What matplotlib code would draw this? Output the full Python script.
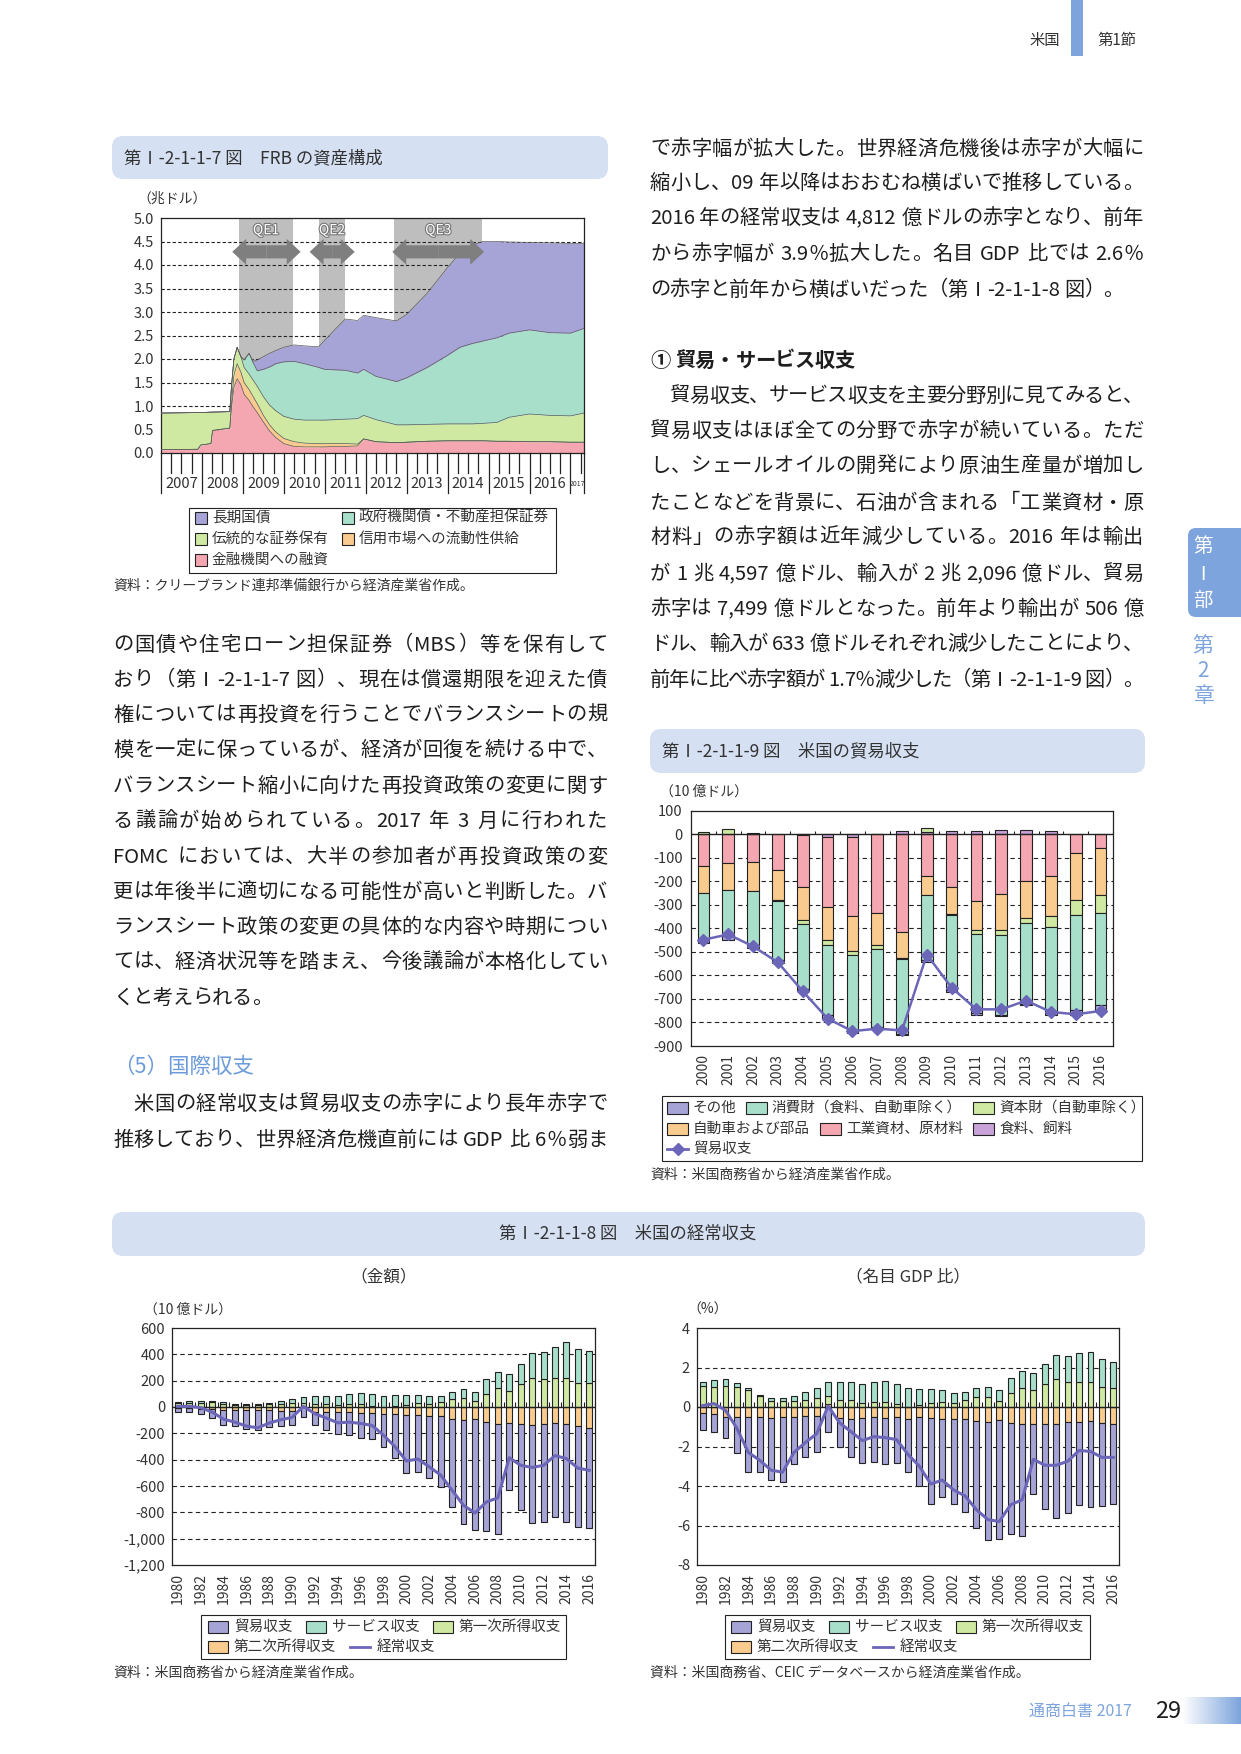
import re
import numpy as np
import matplotlib
matplotlib.use('Agg')
import matplotlib.pyplot as plt
from matplotlib import font_manager
from matplotlib.ft2font import FT2Font
from matplotlib.patches import Rectangle, FancyBboxPatch, FancyArrow
from matplotlib.colors import LinearSegmentedColormap
import matplotlib.patheffects as pe

W, H = 1241, 1754
plt.rcParams['font.family'] = ['Noto Sans CJK JP', 'DejaVu Sans']
plt.rcParams['axes.unicode_minus'] = False

# ---- colours
LAV = '#A6A3D7'
MINT = '#A7DFCA'
LGRN = '#CFE9A2'
ORNG = '#FACB8F'
PINK = '#F4A7B0'
VIOL = '#C9A2DA'
LINE = '#6B66B8'
BOXBG = '#D6E0F3'
ACC = '#7DA4DC'
BODY = '#1E1E1E'
CT = '#333333'

# ---- 第I-2-1-1-7図 FRBの資産構成 (兆ドル), cumulative tops of each layer
frb_t = [2007.00, 2007.90, 2007.97, 2008.22, 2008.26, 2008.68, 2008.72, 2008.78, 2008.86, 2008.95,
         2009.03, 2009.15, 2009.25, 2009.35, 2009.50, 2009.65, 2009.80, 2010.00, 2010.25, 2010.50,
         2010.85, 2011.00, 2011.25, 2011.50, 2011.80, 2011.95, 2012.25, 2012.75, 2013.00, 2013.50,
         2014.00, 2014.30, 2014.60, 2014.85, 2015.20, 2015.50, 2016.00, 2016.50, 2017.00, 2017.33]
frb_loans = [0.07, 0.08, 0.17, 0.20, 0.48, 0.53, 0.95, 1.40, 1.58, 1.45,
             1.25, 1.12, 0.98, 0.86, 0.66, 0.47, 0.33, 0.20, 0.14, 0.13,
             0.13, 0.13, 0.14, 0.14, 0.15, 0.30, 0.24, 0.22, 0.23, 0.25,
             0.26, 0.26, 0.26, 0.26, 0.25, 0.25, 0.24, 0.24, 0.23, 0.23]
frb_credit = [0.07, 0.08, 0.17, 0.20, 0.48, 0.53, 1.05, 1.65, 1.90, 1.72,
              1.50, 1.35, 1.20, 1.05, 0.80, 0.60, 0.45, 0.31, 0.24, 0.21,
              0.20, 0.20, 0.20, 0.20, 0.19, 0.30, 0.24, 0.22, 0.23, 0.25,
              0.26, 0.26, 0.26, 0.26, 0.25, 0.25, 0.24, 0.24, 0.23, 0.23]
frb_trad = [0.85, 0.86, 0.86, 0.87, 0.87, 0.88, 1.40, 2.00, 2.25, 2.05,
            1.82, 1.68, 1.55, 1.42, 1.20, 1.02, 0.90, 0.78, 0.72, 0.70,
            0.70, 0.70, 0.71, 0.72, 0.73, 0.80, 0.71, 0.60, 0.60, 0.61,
            0.62, 0.62, 0.62, 0.63, 0.65, 0.76, 0.83, 0.80, 0.79, 0.85]
frb_agency = [0.85, 0.86, 0.86, 0.87, 0.87, 0.88, 1.40, 2.00, 2.25, 2.05,
              1.98, 2.12, 1.92, 1.75, 1.78, 1.83, 1.90, 1.94, 1.95, 1.90,
              1.82, 1.78, 1.77, 1.76, 1.70, 1.78, 1.63, 1.52, 1.60, 1.82,
              2.08, 2.25, 2.33, 2.38, 2.45, 2.55, 2.62, 2.56, 2.55, 2.65]
frb_total = [0.85, 0.86, 0.86, 0.87, 0.87, 0.88, 1.40, 2.00, 2.25, 2.05,
             1.98, 2.12, 1.95, 1.98, 2.05, 2.12, 2.18, 2.25, 2.30, 2.28,
             2.26, 2.40, 2.63, 2.85, 2.82, 2.93, 2.88, 2.81, 2.95, 3.40,
             3.95, 4.25, 4.42, 4.50, 4.50, 4.49, 4.48, 4.47, 4.46, 4.46]
frb_labels = ['金融機関への融資', '信用市場への流動性供給', '伝統的な証券保有',
              '政府機関債・不動産担保証券', '長期国債']
qe_names = ['QE1', 'QE2', 'QE3']
qe_start = [2008.90, 2010.85, 2012.70]
qe_end = [2010.23, 2011.50, 2014.84]
qe_arrow_start = [2008.74, 2010.63, 2012.65]
qe_arrow_end = [2010.41, 2011.73, 2014.89]
frb_years = list(range(2007, 2017))

# ---- 第I-2-1-1-9図 米国の貿易収支 (10億ドル)
trade_years = list(range(2000, 2017))
trade_food = [0, 0, 0, 0, -4, -10, -10, 3, 15, 10, 15, 17, 20, 20, 15, 0, 0]
trade_industrial = [-133, -120, -116, -150, -218, -297, -336, -333, -415, -176, -222, -282, -252, -197, -176, -78, -58]
trade_autos = [-115, -115, -123, -128, -141, -141, -149, -139, -109, -80, -115, -123, -153, -157, -171, -200, -198]
trade_capital = [10, 22, 7, -5, -18, -24, -19, -14, -4, 18, -4, -17, -24, -21, -45, -63, -77]
trade_consumer = [-195, -197, -230, -250, -275, -297, -319, -333, -319, -279, -319, -336, -337, -345, -360, -404, -391]
trade_other = [-17, -16, -14, -14, -11, -17, -10, -7, -7, -7, -11, -8, -5, -4, -17, -21, -28]
trade_balance = [-448, -425, -476, -544, -667, -783, -837, -826, -834, -511, -652, -744, -744, -707, -755, -765, -751]

# ---- 第I-2-1-1-8図 米国の経常収支
ca_years = list(range(1980, 2017))
ca_goods_bn = [-28, -28, -38, -69, -112, -122, -143, -155, -130, -115,
               -104, -77, -100, -138, -168, -176, -191, -199, -252, -337,
               -441, -426, -472, -540, -665, -787, -841, -825, -833, -512,
               -650, -741, -741, -711, -741, -764, -758]
ca_services_bn = [13, 17, 17, 10, 13, 3, 6, 8, 10, 23,
                  31, 46, 61, 63, 69, 77, 87, 92, 84, 84,
                  76, 61, 61, 46, 54, 69, 69, 115, 122, 130,
                  153, 191, 206, 237, 268, 260, 245]
ca_primary_bn = [28, 31, 31, 38, 25, 17, 14, 12, 20, 25,
                 31, 24, 23, 21, 15, 20, 20, 8, 0, 8,
                 15, 31, 23, 38, 61, 69, 46, 99, 145, 122,
                 176, 222, 214, 222, 222, 183, 183]
ca_secondary_bn = [-10, -10, -15, -15, -25, -23, -23, -23, -23, -31,
                   -33, 8, -38, -38, -38, -38, -46, -46, -54, -54,
                   -64, -64, -71, -71, -92, -99, -92, -115, -130, -122,
                   -130, -138, -130, -122, -130, -145, -161]
ca_bn = [5, 5, -5, -38, -92, -115, -145, -158, -122, -97,
         -79, 5, -51, -84, -120, -115, -125, -140, -214, -301,
         -410, -395, -454, -517, -632, -747, -805, -721, -690, -385,
         -443, -459, -443, -369, -392, -464, -481]

ca_goods_pct = [-0.85, -0.91, -1.07, -1.83, -2.79, -2.79, -3.11, -3.27, -2.37, -2.09,
                -1.84, -1.27, -1.47, -1.90, -2.27, -2.29, -2.32, -2.34, -2.69, -3.49,
                -4.35, -3.95, -4.31, -4.70, -5.42, -5.96, -6.01, -5.61, -5.66, -3.53,
                -4.29, -4.76, -4.58, -4.19, -4.33, -4.19, -4.06]
ca_services_pct = [0.22, 0.37, 0.37, 0.25, 0.10, 0.05, 0.17, 0.17, 0.24, 0.42,
                   0.52, 0.70, 0.93, 0.93, 0.96, 1.01, 1.06, 1.03, 0.95, 0.83,
                   0.72, 0.60, 0.50, 0.43, 0.46, 0.51, 0.57, 0.75, 0.84, 0.87,
                   1.00, 1.22, 1.29, 1.44, 1.52, 1.40, 1.32]
ca_primary_pct = [1.04, 0.99, 1.04, 0.99, 0.85, 0.55, 0.28, 0.28, 0.32, 0.34,
                  0.44, 0.40, 0.33, 0.33, 0.20, 0.25, 0.25, 0.13, 0.01, 0.08,
                  0.19, 0.25, 0.20, 0.33, 0.50, 0.50, 0.28, 0.70, 0.96, 0.85,
                  1.16, 1.41, 1.29, 1.29, 1.26, 1.01, 0.96]
ca_secondary_pct = [-0.31, -0.36, -0.51, -0.51, -0.51, -0.51, -0.58, -0.51, -0.51, -0.45,
                    -0.45, 0.16, -0.56, -0.61, -0.58, -0.51, -0.58, -0.51, -0.61, -0.51,
                    -0.58, -0.62, -0.62, -0.62, -0.72, -0.77, -0.67, -0.82, -0.87, -0.87,
                    -0.87, -0.87, -0.77, -0.77, -0.72, -0.82, -0.87]
ca_pct = [0.07, 0.17, -0.17, -1.08, -2.30, -2.70, -3.20, -3.30, -2.30, -1.80,
          -1.35, 0.05, -0.80, -1.25, -1.70, -1.50, -1.55, -1.65, -2.40, -3.00,
          -3.90, -3.70, -4.20, -4.50, -5.20, -5.70, -5.80, -4.95, -4.70, -2.65,
          -2.95, -2.95, -2.75, -2.20, -2.25, -2.55, -2.55]

# ---- body text
left_lines = [
    'の国債や住宅ローン担保証券（MBS）等を保有して',
    'おり（第Ⅰ-2-1-1-7 図）、現在は償還期限を迎えた債',
    '権については再投資を行うことでバランスシートの規',
    '模を一定に保っているが、経済が回復を続ける中で、',
    'バランスシート縮小に向けた再投資政策の変更に関す',
    'る議論が始められている。2017 年 3 月に行われた',
    'FOMC においては、大半の参加者が再投資政策の変',
    '更は年後半に適切になる可能性が高いと判断した。バ',
    'ランスシート政策の変更の具体的な内容や時期につい',
    'ては、経済状況等を踏まえ、今後議論が本格化してい',
    'くと考えられる。',
]
left_lines2 = [
    '　米国の経常収支は貿易収支の赤字により長年赤字で',
    '推移しており、世界経済危機直前には GDP 比 6％弱ま',
]
right_lines = [
    'で赤字幅が拡大した。世界経済危機後は赤字が大幅に',
    '縮小し、09 年以降はおおむね横ばいで推移している。',
    '2016 年の経常収支は 4,812 億ドルの赤字となり、前年',
    'から赤字幅が 3.9％拡大した。名目 GDP 比では 2.6％',
    'の赤字と前年から横ばいだった（第Ⅰ-2-1-1-8 図）。',
]
right_lines2 = [
    '　貿易収支、サービス収支を主要分野別に見てみると、',
    '貿易収支はほぼ全ての分野で赤字が続いている。ただ',
    'し、シェールオイルの開発により原油生産量が増加し',
    'たことなどを背景に、石油が含まれる「工業資材・原',
    '材料」の赤字額は近年減少している。2016 年は輸出',
    'が 1 兆 4,597 億ドル、輸入が 2 兆 2,096 億ドル、貿易',
    '赤字は 7,499 億ドルとなった。前年より輸出が 506 億',
    'ドル、輸入が 633 億ドルそれぞれ減少したことにより、',
    '前年に比べ赤字額が 1.7％減少した（第Ⅰ-2-1-1-9 図）。',
]

fig = plt.figure(figsize=(W / 100, H / 100), dpi=100)
pg = fig.add_axes([0, 0, 1, 1])
pg.axis('off')


def px_axes(x0, y0, x1, y1):
    return fig.add_axes([x0 / W, 1 - y1 / H, (x1 - x0) / W, (y1 - y0) / H])


_fonts = {}


def _adv_raw(s, fs, bold):
    prop = font_manager.FontProperties(family='Noto Sans CJK JP',
                                       weight='bold' if bold else 'normal')
    path = font_manager.findfont(prop)
    if path not in _fonts:
        _fonts[path] = FT2Font(path, hinting_factor=1)
    f = _fonts[path]
    f.set_size(fs, 100)
    w = 0.0
    for ch in s:
        g = f.load_char(ord(ch))
        w += g.horiAdvance / 64
    return w


_k = (20 * 100 / 72) / _adv_raw('国', 20, False)


def text_adv(s, fs, bold=False):
    return _adv_raw(s, fs, bold) * _k


def put_line(s, x0, yc, x1=None, fs=14.6, color=BODY, bold=False):
    toks = re.findall(r'[!-~]+| |[^ !-~]', s)
    em = fs * 100 / 72
    items = []
    for t in toks:
        if t == ' ':
            items.append((t, 0.25 * em))
        else:
            items.append((t, text_adv(t, fs, bold)))
    gap = 0.0
    if x1 is not None and len(items) > 1:
        gap = (x1 - x0 - sum(i[1] for i in items)) / (len(items) - 1)
    x = x0
    base = yc + 0.37 * em
    for t, w in items:
        if t.strip() and t != '　':
            pg.text(x, base, t, fontsize=fs, color=color, ha='left', va='baseline',
                    fontweight='bold' if bold else 'normal')
        x += w + gap
    return x


def title_box(x0, y0, x1, y1):
    pg.add_patch(FancyBboxPatch((x0, y0), x1 - x0, y1 - y0,
                                boxstyle='round,pad=0,rounding_size=11',
                                fc=BOXBG, ec='none', zorder=1))


def legend_item(x, yc, kind, color, label, pw, ph, fs=10.5, tpad=6):
    if kind == 'patch':
        pg.add_patch(Rectangle((x, yc - ph / 2), pw, ph, fc=color, ec='#222', lw=0.8, zorder=3))
    else:
        pg.plot([x, x + pw], [yc, yc], color=color, lw=2, zorder=3)
        if kind == 'marker':
            pg.plot([x + pw / 2], [yc], marker='D', ms=6, color=color, zorder=4)
    pg.text(x + pw + tpad, yc, label, fontsize=fs, color=CT, ha='left', va='center')
    return x + pw + tpad + text_adv(label, fs)


def legend_flow(x0, yc, items, pw=21, ph=12, gap=12, tpad=6):
    x = x0
    for kind, color, label in items:
        x = legend_item(x, yc, kind, color, label, pw, ph, tpad=tpad) + gap


def style_axes(ax):
    for s in ax.spines.values():
        s.set_color('#222')
        s.set_linewidth(0.9)
    ax.tick_params(length=0, labelsize=10.5, colors=CT)


def stack_bars(ax, x, series, colors, width):
    x = np.asarray(x)
    pos = np.zeros(len(x))
    neg = np.zeros(len(x))
    for vals, c in zip(series, colors):
        v = np.asarray(vals, float)
        base = np.where(v >= 0, pos, neg)
        m = v != 0
        ax.bar(x[m], v[m], width, bottom=base[m], color=c, edgecolor='#222', lw=0.8, zorder=3)
        pos = pos + np.where(v > 0, v, 0)
        neg = neg + np.where(v < 0, v, 0)


# ================= header / footer / side tab
pg.add_patch(Rectangle((1071, 0), 12, 56, fc=ACC, ec='none'))
pg.text(1060, 40, '米国', fontsize=11, color=CT, ha='right', va='center')
pg.text(1097, 40, '第1節', fontsize=11, color=CT, ha='left', va='center')

pg.add_patch(FancyBboxPatch((1188, 528), 80, 89, boxstyle='round,pad=0,rounding_size=8',
                            fc=ACC, ec='none'))
for ch, yy in zip(['第', 'Ⅰ', '部'], [547, 574, 600]):
    pg.text(1203, yy, ch, fontsize=14, color='white', ha='center', va='center')
for ch, yy in zip(['第', '2', '章'], [646, 671, 696]):
    pg.text(1203, yy, ch, fontsize=15, color=ACC, ha='center', va='center')

pg.text(1029, 1711, '通商白書 2017', fontsize=11.5, color=ACC, ha='left', va='center')
pg.text(1155, 1711, '29', fontsize=17, color='#1E1E1E', ha='left', va='center')
grad = LinearSegmentedColormap.from_list('g', ['white', ACC])
pg.imshow(np.linspace(0, 1, 64)[None, :], cmap=grad, extent=(1182, 1241, 1724, 1697),
          aspect='auto', zorder=1)

# ================= body text
for s, yy in zip(left_lines, [643, 678, 713, 748, 784, 819, 855, 890, 925, 960, 996]):
    put_line(s, 113, yy, None if s.endswith('考えられる。') else 607)
pg.text(113, 1067, '（5）国際収支', fontsize=15.5, color='#6C9BD9', ha='left', va='center')
for s, yy in zip(left_lines2, [1102, 1138]):
    put_line(s, 113, yy, 607)

for s, yy in zip(right_lines, [147, 181, 216, 252, 288]):
    put_line(s, 650, yy, None if s.startswith('の赤字と') else 1143)
put_line('① 貿易・サービス収支', 650, 359, bold=True)
for s, yy in zip(right_lines2, [394, 429, 464, 501, 535, 572, 607, 642, 678]):
    put_line(s, 650, yy, 1143)

# ================= FRB chart
title_box(112, 136, 608, 179)
pg.text(124, 158, '第Ⅰ-2-1-1-7 図　FRB の資産構成', fontsize=12.5, color=CT, ha='left', va='center')
pg.text(137, 199, '（兆ドル）', fontsize=10, color=CT, ha='left', va='center')

ax1 = px_axes(161, 218, 584, 453)
ax1.set_xlim(2007, 2017.33)
ax1.set_ylim(0, 5)
for s, e in zip(qe_start, qe_end):
    ax1.axvspan(s, e, color='#BEBEBE', lw=0, zorder=0)
for v in np.arange(0.5, 4.6, 0.5):
    ax1.axhline(v, color='#222', lw=0.8, ls=(0, (3, 2)), zorder=1)
bounds = [np.zeros(len(frb_t)), frb_loans, frb_credit, frb_trad, frb_agency, frb_total]
for lo, hi, c in zip(bounds[:-1], bounds[1:], [PINK, ORNG, LGRN, MINT, LAV]):
    ax1.fill_between(frb_t, lo, hi, color=c, lw=0, zorder=2)
for hi in bounds[1:]:
    ax1.plot(frb_t, hi, color='#5a5a5a', lw=0.5, zorder=3)
for name, s, e, a0, a1 in zip(qe_names, qe_start, qe_end, qe_arrow_start, qe_arrow_end):
    ax1.text((s + e) / 2, 4.74, name, ha='center', va='center', fontsize=10, color='white',
             zorder=6, path_effects=[pe.withStroke(linewidth=1.6, foreground='#777777')])
    mid = (a0 + a1) / 2
    for end in (a0, a1):
        ax1.add_patch(FancyArrow(mid, 4.28, end - mid, 0, width=0.28, head_width=0.55,
                                 head_length=0.34, length_includes_head=True,
                                 color='#7F7F7F', lw=0, zorder=6))
ax1.set_yticks(np.arange(0, 5.01, 0.5))
ax1.set_yticklabels([f'{v:.1f}' for v in np.arange(0, 5.01, 0.5)])
ax1.set_xticks([])
style_axes(ax1)
ax1.tick_params(axis='y', pad=5)
tr = ax1.get_xaxis_transform()
for q in np.arange(2007, 2017.3, 0.25):
    ln = 0.17 if abs(q - round(q)) < 1e-6 else 0.085
    ax1.plot([q, q], [0, -ln], color='#222', lw=0.9, transform=tr, clip_on=False)
ax1.plot([2017.33, 2017.33], [0, -0.17], color='#222', lw=0.9, transform=tr, clip_on=False)
for yv in frb_years:
    ax1.text(yv + 0.5, -0.132, str(yv), transform=tr, ha='center', va='center',
             fontsize=10.5, color=CT)
ax1.text(2017.17, -0.132, '2017', transform=tr, ha='center', va='center', fontsize=5, color=CT)

pg.add_patch(Rectangle((189, 508), 367, 65, fill=False, ec='#222', lw=0.8))
legend_item(195, 518, 'patch', LAV, frb_labels[4], 12, 12, tpad=5)
legend_item(342, 518, 'patch', MINT, frb_labels[3], 12, 12, tpad=5)
legend_item(195, 539, 'patch', LGRN, frb_labels[2], 12, 12, tpad=5)
legend_item(342, 539, 'patch', ORNG, frb_labels[1], 12, 12, tpad=5)
legend_item(195, 560, 'patch', PINK, frb_labels[0], 12, 12, tpad=5)
pg.text(113, 586, '資料：クリーブランド連邦準備銀行から経済産業省作成。', fontsize=10, color=CT,
        ha='left', va='center')

# ================= trade chart
title_box(650, 729, 1145, 773)
pg.text(662, 751, '第Ⅰ-2-1-1-9 図　米国の貿易収支', fontsize=12.5, color=CT, ha='left', va='center')
pg.text(660, 792, '（10 億ドル）', fontsize=10, color=CT, ha='left', va='center')

ax2 = px_axes(691, 811, 1113, 1046)
xt = np.arange(len(trade_years))
ax2.set_xlim(-0.5, len(xt) - 0.5)
ax2.set_ylim(-900, 100)
for v in range(-800, 0, 100):
    ax2.axhline(v, color='#222', lw=0.8, ls=(0, (4, 3)), zorder=1)
stack_bars(ax2, xt, [trade_food, trade_industrial, trade_autos, trade_capital, trade_consumer, trade_other],
           [VIOL, PINK, ORNG, LGRN, MINT, LAV], 0.47)
ax2.axhline(0, color='#222', lw=1.0, zorder=4)
ax2.vlines(np.arange(len(xt) + 1) - 0.5, 0, 13, color='#222', lw=0.8, zorder=4)
ax2.plot(xt, trade_balance, color=LINE, lw=1.8, marker='D', ms=6.5, zorder=5)
ax2.set_yticks(range(-900, 101, 100))
ax2.set_xticks(xt)
ax2.set_xticklabels([str(y) for y in trade_years], rotation=90)
style_axes(ax2)
ax2.tick_params(axis='y', pad=6)
ax2.tick_params(axis='x', pad=6, labelsize=10)

pg.add_patch(Rectangle((662, 1096), 480, 65, fill=False, ec='#222', lw=0.8))
legend_flow(667, 1108, [('patch', LAV, 'その他'), ('patch', MINT, '消費財（食料、自動車除く）'),
                        ('patch', LGRN, '資本財（自動車除く）')], gap=8, tpad=5)
legend_flow(667, 1129, [('patch', ORNG, '自動車および部品'), ('patch', PINK, '工業資材、原材料'),
                        ('patch', VIOL, '食料、飼料')], gap=8, tpad=5)
legend_flow(667, 1149, [('marker', LINE, '貿易収支')], gap=8, tpad=5)
pg.text(650, 1175, '資料：米国商務省から経済産業省作成。', fontsize=10, color=CT, ha='left', va='center')

# ================= current account charts
title_box(112, 1212, 1145, 1256)
pg.text(628, 1234, '第Ⅰ-2-1-1-8 図　米国の経常収支', fontsize=12.5, color=CT, ha='center', va='center')
pg.text(384, 1277, '（金額）', fontsize=12, color=CT, ha='center', va='center')
pg.text(908, 1277, '（名目 GDP 比）', fontsize=12, color=CT, ha='center', va='center')
pg.text(144, 1310, '（10 億ドル）', fontsize=10, color=CT, ha='left', va='center')
pg.text(687, 1310, '（%）', fontsize=10, color=CT, ha='left', va='center')

xc = np.arange(len(ca_years))
ca_items1 = [('patch', LAV, '貿易収支'), ('patch', MINT, 'サービス収支'), ('patch', LGRN, '第一次所得収支')]
ca_items2 = [('patch', ORNG, '第二次所得収支'), ('line', LINE, '経常収支')]

ax3 = px_axes(172, 1328, 595, 1565)
ax3.set_xlim(-0.5, len(xc) - 0.5)
ax3.set_ylim(-1200, 600)
for v in [400, 200, -200, -400, -600, -800, -1000]:
    ax3.axhline(v, color='#222', lw=0.8, ls=(0, (4, 3)), zorder=1)
stack_bars(ax3, xc, [ca_secondary_bn, ca_goods_bn, ca_primary_bn, ca_services_bn],
           [ORNG, LAV, LGRN, MINT], 0.52)
ax3.axhline(0, color='#222', lw=1.0, zorder=4)
ax3.vlines(np.arange(len(xc) + 1) - 0.5, 0, 35, color='#222', lw=0.8, zorder=4)
ax3.plot(xc, ca_bn, color=LINE, lw=2.2, zorder=5)
ax3.set_yticks(range(-1200, 601, 200))
ax3.set_yticklabels([f'{v:,}' for v in range(-1200, 601, 200)])
ax3.set_xticks(xc[::2])
ax3.set_xticklabels([str(y) for y in ca_years[::2]], rotation=90)
style_axes(ax3)
ax3.tick_params(axis='y', pad=5)
ax3.tick_params(axis='x', pad=6, labelsize=10)

pg.add_patch(Rectangle((201, 1615), 365, 44, fill=False, ec='#222', lw=0.8))
legend_flow(208, 1627, ca_items1, pw=20)
legend_flow(208, 1647, ca_items2, pw=20)
pg.text(113, 1673, '資料：米国商務省から経済産業省作成。', fontsize=10, color=CT, ha='left', va='center')

ax4 = px_axes(697, 1328, 1119, 1565)
ax4.set_xlim(-0.5, len(xc) - 0.5)
ax4.set_ylim(-8, 4)
for v in [2, -2, -4, -6]:
    ax4.axhline(v, color='#222', lw=0.8, ls=(0, (4, 3)), zorder=1)
stack_bars(ax4, xc, [ca_secondary_pct, ca_goods_pct, ca_primary_pct, ca_services_pct],
           [ORNG, LAV, LGRN, MINT], 0.52)
ax4.axhline(0, color='#222', lw=1.0, zorder=4)
ax4.vlines(np.arange(len(xc) + 1) - 0.5, 0, 0.23, color='#222', lw=0.8, zorder=4)
ax4.plot(xc, ca_pct, color=LINE, lw=2.2, zorder=5)
ax4.set_yticks(range(-8, 5, 2))
ax4.set_xticks(xc[::2])
ax4.set_xticklabels([str(y) for y in ca_years[::2]], rotation=90)
style_axes(ax4)
ax4.tick_params(axis='y', pad=5)
ax4.tick_params(axis='x', pad=6, labelsize=10)

pg.add_patch(Rectangle((725, 1615), 365, 44, fill=False, ec='#222', lw=0.8))
legend_flow(731, 1627, ca_items1, pw=20)
legend_flow(731, 1647, ca_items2, pw=20)
pg.text(650, 1673, '資料：米国商務省、CEIC データベースから経済産業省作成。', fontsize=10, color=CT,
        ha='left', va='center')

pg.set_xlim(0, W)
pg.set_ylim(H, 0)
fig.savefig('out.png', dpi=100, facecolor='white')
